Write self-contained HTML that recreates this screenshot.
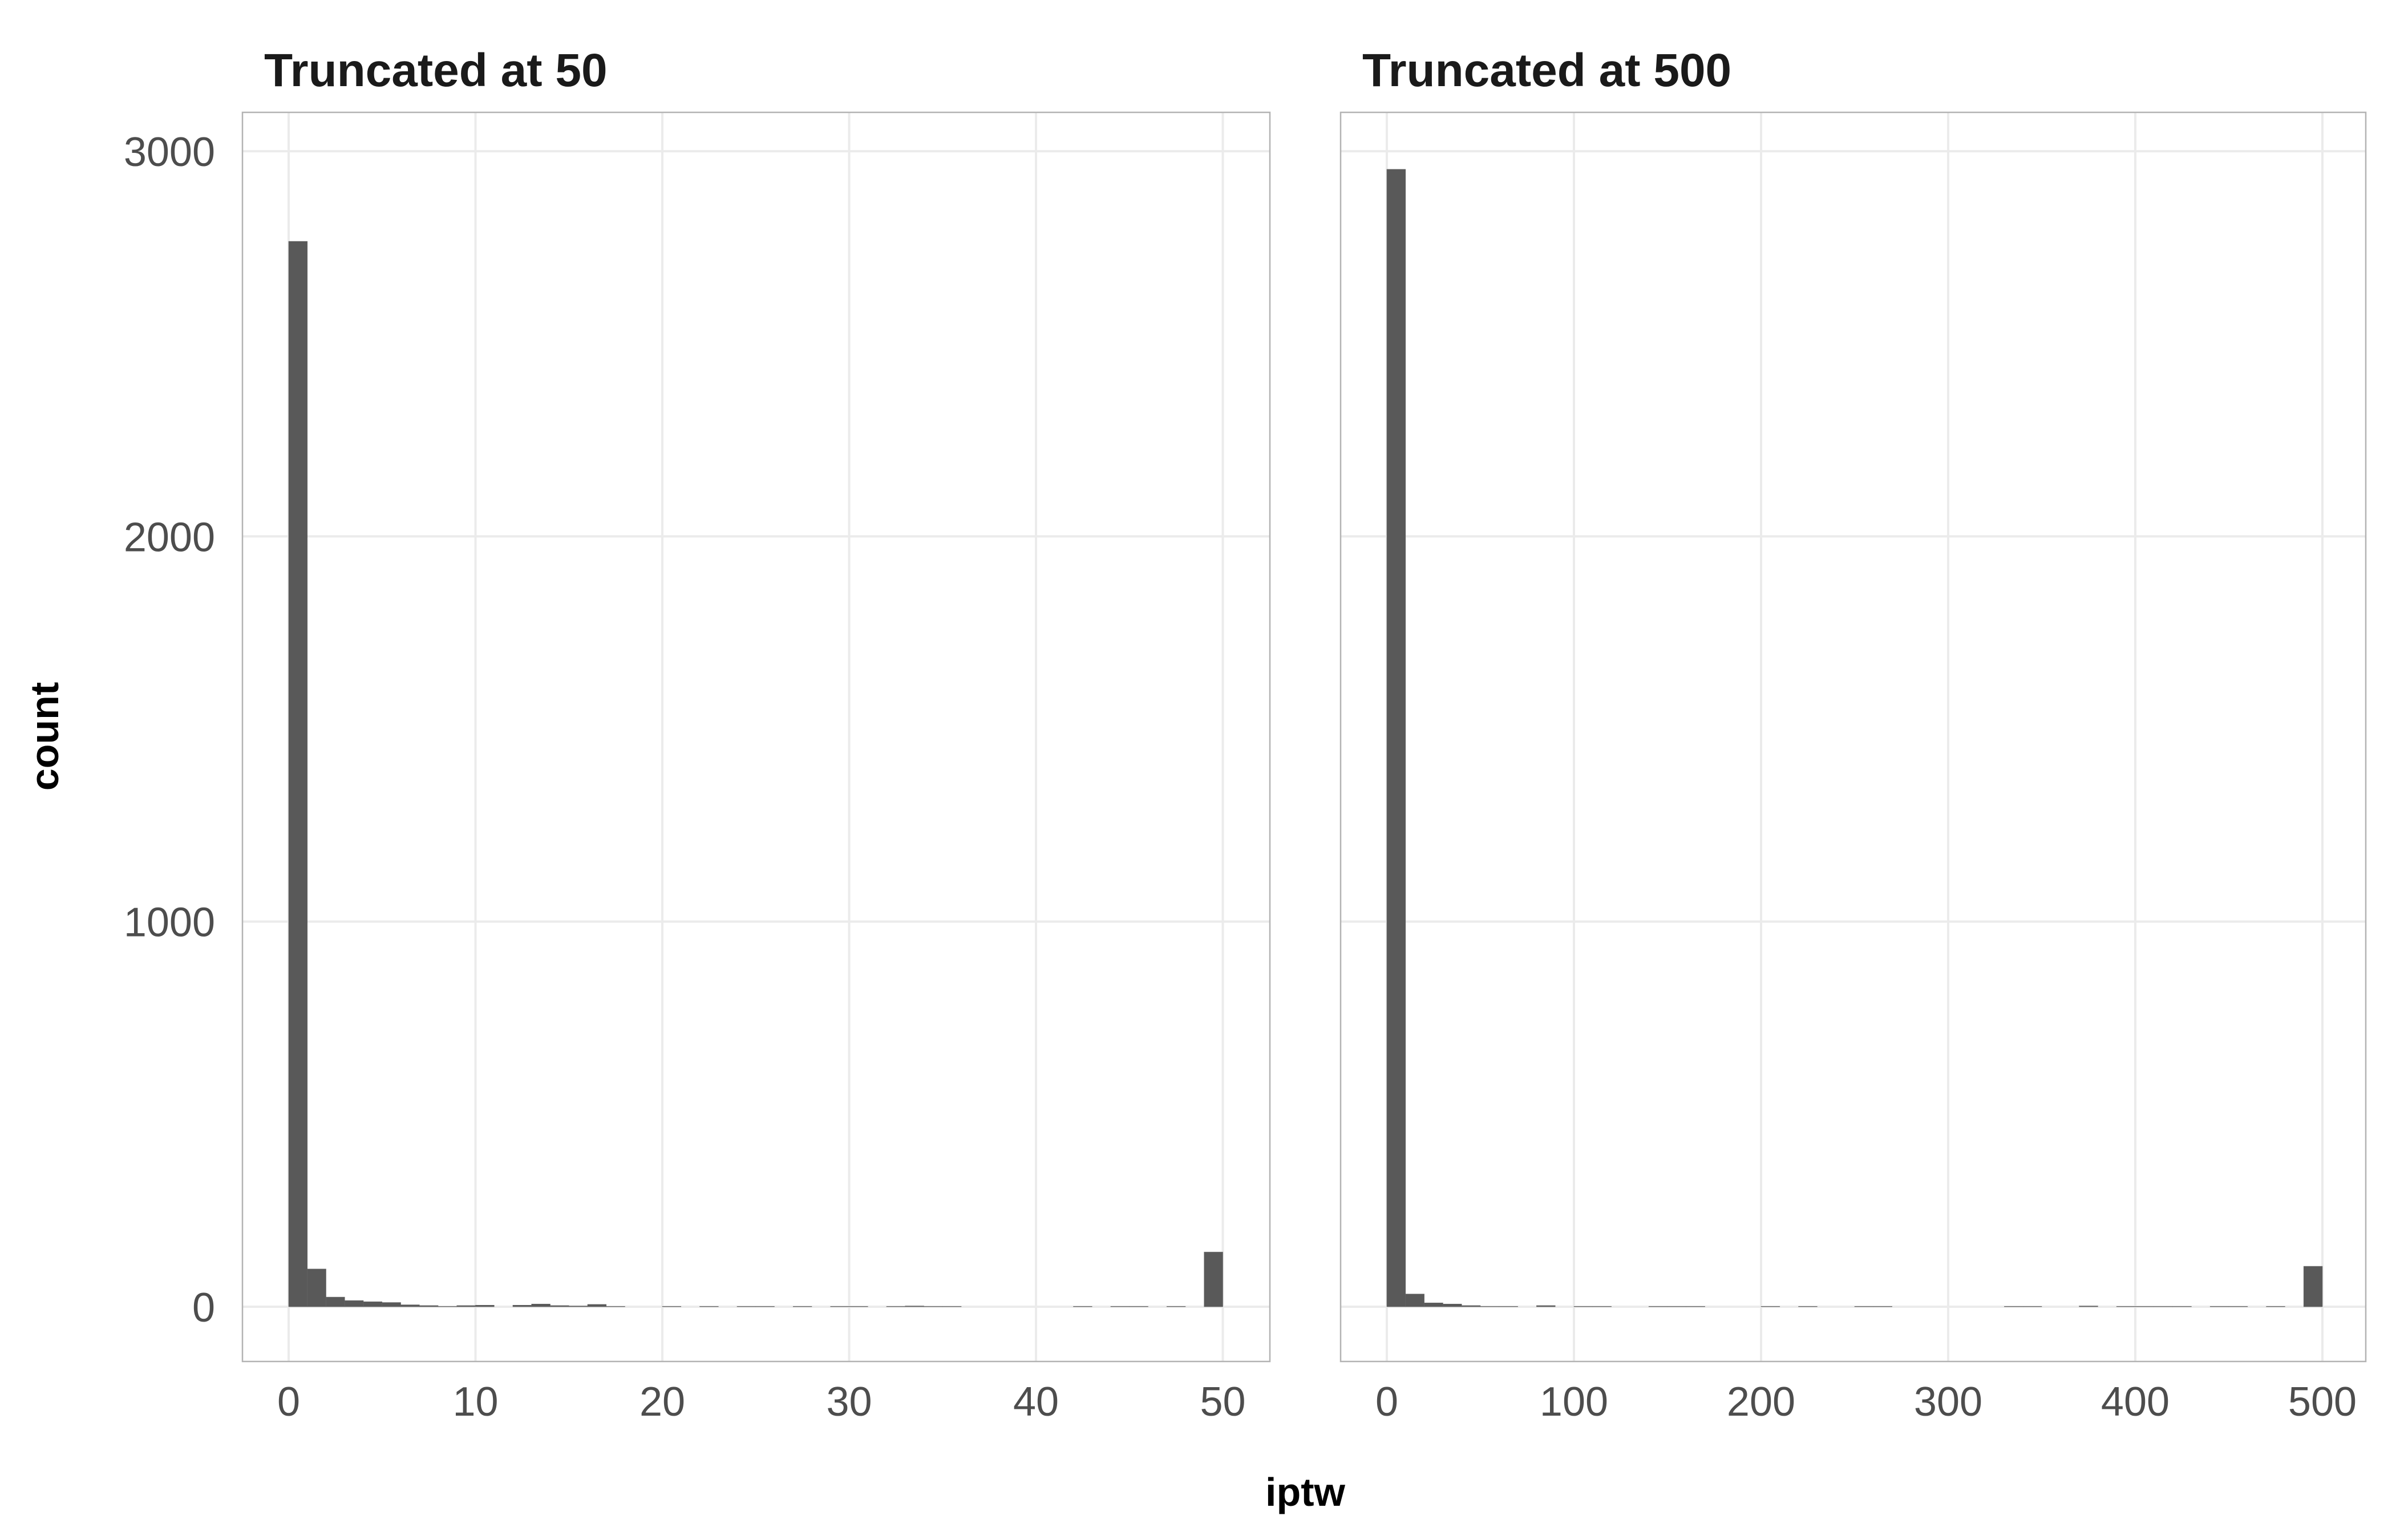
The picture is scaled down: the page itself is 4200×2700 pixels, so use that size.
<!DOCTYPE html>
<html><head><meta charset="utf-8"><style>
html,body{margin:0;padding:0;background:#fff;}
svg{display:block;font-family:"Liberation Sans",sans-serif;}
</style></head><body>
<svg id="chart" width="4200" height="2700" viewBox="0 0 4200 2700" xmlns="http://www.w3.org/2000/svg">
<rect width="4200" height="2700" fill="#fff"/>
<text x="0" y="0" transform="translate(102,1291) rotate(-90)" text-anchor="middle" font-size="70" font-weight="bold" fill="#000">count</text>
<text x="2288" y="2640" text-anchor="middle" font-size="70" font-weight="bold" fill="#000">iptw</text>
<g id="panels"></g>
</svg>
<script>
// Left panel (truncated at 50): bins of width 1 from 0 to 50
const leftCounts = [2766,98,25,16,13,11,5,3,1,3,4,0,4,7,3,2,6,1,0,0,1,0,1,0,1,1,0,1,0,1,1,0,1,2,1,1,0,0,0,0,0,0,1,0,1,1,0,1,0,142];
// Right panel (truncated at 500): bins of width 10 from 0 to 500
const rightCounts = [2953,33,10,7,3,1,1,0,3,0,1,1,0,0,1,1,1,0,0,0,1,0,1,0,0,1,1,0,0,0,0,0,0,1,1,0,0,2,0,1,1,1,1,0,1,1,0,1,0,105];
const leftXTicks = [0,10,20,30,40,50];
const rightXTicks = [0,100,200,300,400,500];
const yTicks = [0,1000,2000,3000];
const titles = ["Truncated at 50","Truncated at 500"];

const NS = "http://www.w3.org/2000/svg";
const plotTop = 197, plotBottom = 2387;
const yScale = v => 2291 - v * 0.6753;
function mk(tag, attrs, parent){const e=document.createElementNS(NS,tag);for(const k in attrs)e.setAttribute(k,attrs[k]);parent.appendChild(e);return e;}

const panelsG = document.getElementById('panels');
const panels = [
  {left:425,right:2226,x0:506,pxPerUnit:32.75,bw:1,counts:leftCounts,ticks:leftXTicks,title:titles[0],name:'left'},
  {left:2350,right:4147,x0:2431,pxPerUnit:3.28,bw:10,counts:rightCounts,ticks:rightXTicks,title:titles[1],name:'right'}
];
panels.forEach((p,pi)=>{
  const xs = v => p.x0 + v * p.pxPerUnit;
  const g = mk('g',{},panelsG);
  
  
  const bg = mk('rect',{x:p.left,y:plotTop,width:p.right-p.left,height:plotBottom-plotTop,fill:'#fff'},g);
  
  
  yTicks.forEach(t=>{
    const l = mk('line',{x1:p.left,x2:p.right,y1:yScale(t),y2:yScale(t),stroke:'#ebebeb','stroke-width':4},g);
    
    
  });
  p.ticks.forEach(t=>{
    const l = mk('line',{x1:xs(t),x2:xs(t),y1:plotTop,y2:plotBottom,stroke:'#ebebeb','stroke-width':4},g);
    
    
    const tx = mk('text',{x:xs(t),y:2482,'text-anchor':'middle','font-size':72,fill:'#4d4d4d'},g);
    tx.textContent = t;
    
    
  });
  p.counts.forEach((c,i)=>{
    if(c<=0) return;
    const x1 = xs(i*p.bw), x2 = xs((i+1)*p.bw);
    const r = mk('rect',{x:x1,y:yScale(c),width:x2-x1,height:yScale(0)-yScale(c),fill:'#595959',stroke:'#666','stroke-width':0.6},g);
    
    
  });
  const border = mk('rect',{x:p.left,y:plotTop,width:p.right-p.left,height:plotBottom-plotTop,fill:'none',stroke:'#b3b3b3','stroke-width':2.5},g);
  
  
  const tt = mk('text',{x:p.left+38,y:151,'font-size':82,'font-weight':'bold',fill:'#1a1a1a'},g);
  tt.textContent = p.title;
  
  
  if(pi===0){
    yTicks.forEach(t=>{
      const tx = mk('text',{x:377,y:yScale(t)+26,'text-anchor':'end','font-size':72,fill:'#4d4d4d'},g);
      tx.textContent = t;
      
      
    });
  }
});
</script>
</body></html>
